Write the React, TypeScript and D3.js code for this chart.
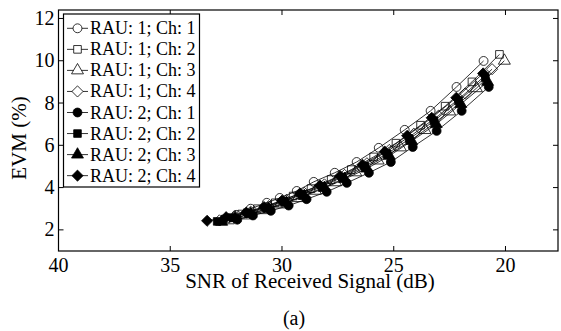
import React, { useRef, useEffect } from 'react';
import * as d3 from 'd3';

// SNR (dB) and EVM (%), one pair of arrays per curve
const snrR1C1 = [20.98, 22.19, 23.35, 24.51, 25.67, 26.66, 27.64, 28.58, 29.34, 30.1, 30.68, 31.4, 32.05];
const evmR1C1 = [9.99, 8.76, 7.63, 6.73, 5.88, 5.21, 4.7, 4.27, 3.84, 3.51, 3.28, 3.0, 2.71];
const snrR1C2 = [20.27, 21.5, 22.7, 23.8, 24.9, 25.9, 26.9, 27.8, 28.7, 29.5, 30.3, 31.1, 31.8, 32.5];
const evmR1C2 = [10.3, 9.0, 7.85, 6.95, 6.1, 5.45, 4.85, 4.38, 3.95, 3.6, 3.28, 3.0, 2.75, 2.52];
const snrR1C3 = [20.05, 21.3, 22.5, 23.6, 24.7, 25.7, 26.7, 27.6, 28.5, 29.3, 30.1, 30.9, 31.7, 32.4];
const evmR1C3 = [10.0, 8.7, 7.6, 6.72, 5.9, 5.28, 4.72, 4.25, 3.85, 3.5, 3.2, 2.93, 2.68, 2.45];
const snrR1C4 = [20.6, 21.8, 23.0, 24.1, 25.2, 26.2, 27.2, 28.1, 29.0, 29.8, 30.6, 31.4, 32.1, 32.8];
const evmR1C4 = [9.6, 8.45, 7.4, 6.55, 5.78, 5.15, 4.6, 4.15, 3.75, 3.42, 3.12, 2.86, 2.64, 2.45];
const snrR2C1 = [20.75, 21.96, 23.08, 24.15, 25.13, 26.11, 27.1, 28.0, 28.9, 29.7, 30.5, 31.3, 32.0];
const evmR2C1 = [8.76, 7.63, 6.68, 5.92, 5.21, 4.7, 4.22, 3.8, 3.45, 3.15, 2.9, 2.68, 2.48];
const snrR2C2 = [20.9, 22.1, 23.2, 24.3, 25.3, 26.3, 27.3, 28.2, 29.1, 29.9, 30.7, 31.5, 32.2, 32.9];
const evmR2C2 = [9.2, 8.1, 7.15, 6.3, 5.6, 5.0, 4.5, 4.05, 3.68, 3.35, 3.05, 2.8, 2.58, 2.4];
const snrR2C3 = [20.8, 22.0, 23.1, 24.2, 25.2, 26.2, 27.2, 28.1, 29.0, 29.8, 30.6, 31.4, 32.1, 32.7];
const evmR2C3 = [9.0, 7.95, 7.0, 6.2, 5.5, 4.9, 4.4, 3.98, 3.6, 3.28, 3.0, 2.75, 2.55, 2.38];
const snrR2C4 = [21.0, 22.2, 23.3, 24.4, 25.4, 26.4, 27.4, 28.3, 29.2, 30.0, 30.8, 31.6, 32.5, 33.35];
const evmR2C4 = [9.4, 8.25, 7.3, 6.45, 5.7, 5.08, 4.55, 4.1, 3.72, 3.38, 3.08, 2.82, 2.6, 2.43];

const seriesNames = [
    'RAU: 1; Ch: 1', 'RAU: 1; Ch: 2', 'RAU: 1; Ch: 3', 'RAU: 1; Ch: 4',
    'RAU: 2; Ch: 1', 'RAU: 2; Ch: 2', 'RAU: 2; Ch: 3', 'RAU: 2; Ch: 4'
];
const seriesSnr = [snrR1C1, snrR1C2, snrR1C3, snrR1C4, snrR2C1, snrR2C2, snrR2C3, snrR2C4];
const seriesEvm = [evmR1C1, evmR1C2, evmR1C3, evmR1C4, evmR2C1, evmR2C2, evmR2C3, evmR2C4];

const xTicks = [40, 35, 30, 25, 20];
const yTicks = [2, 4, 6, 8, 10, 12];

// matlab style diamond (square turned 45 degrees)
const symbolSquareDiamond = {
    draw(ctx, size) {
        const r = Math.sqrt(size / 2);
        ctx.moveTo(0, -r);
        ctx.lineTo(r, 0);
        ctx.lineTo(0, r);
        ctx.lineTo(-r, 0);
        ctx.closePath();
    }
};
const shapes = [d3.symbolCircle, d3.symbolSquare, d3.symbolTriangle, symbolSquareDiamond];
const sizes = [62, 58, 62, 62];

export default function App() {
    const ref = useRef<SVGSVGElement>(null);

    useEffect(() => {
        document.body.style.margin = '0';
        const font = '"Liberation Serif", "Times New Roman", serif';
        const left = 58.5, right = 558, top = 10, bottom = 251;

        const svg = d3.select(ref.current);
        svg.selectAll('*').remove();
        svg.attr('width', 561).attr('height', 331).style('background', '#fff');

        const x = d3.scaleLinear().domain([40, 17.65]).range([left, right]);
        const y = d3.scaleLinear().domain([1, 12.4]).range([bottom, top]);

        // curves
        const line = d3.line<[number, number]>()
            .x(d => x(d[0]))
            .y(d => y(d[1]));

        seriesNames.forEach((name, i) => {
            const pts: [number, number][] = seriesSnr[i].map((s, j) => [s, seriesEvm[i][j]]);
            const filled = i >= 4;
            const g = svg.append('g');
            g.append('path')
                .attr('d', line(pts))
                .attr('fill', 'none')
                .attr('stroke', '#000')
                .attr('stroke-width', 0.8);
            g.selectAll('path.m')
                .data(pts)
                .enter().append('path')
                .attr('class', 'm')
                .attr('transform', d => 'translate(' + x(d[0]) + ',' + y(d[1]) + ')')
                .attr('d', d3.symbol().type(shapes[i % 4] as any).size(sizes[i % 4])())
                .attr('fill', filled ? '#000' : 'none')
                .attr('stroke', '#000')
                .attr('stroke-width', 0.8);
        });

        // frame and ticks (inward, all four sides)
        svg.append('rect')
            .attr('x', left).attr('y', top)
            .attr('width', right - left).attr('height', bottom - top)
            .attr('fill', 'none').attr('stroke', '#000').attr('stroke-width', 1.2);

        const tk = 5;
        xTicks.forEach(t => {
            svg.append('line').attr('x1', x(t)).attr('x2', x(t)).attr('y1', bottom).attr('y2', bottom - tk).attr('stroke', '#000');
            svg.append('line').attr('x1', x(t)).attr('x2', x(t)).attr('y1', top).attr('y2', top + tk).attr('stroke', '#000');
            svg.append('text')
                .attr('x', x(t)).attr('y', 272)
                .attr('text-anchor', 'middle')
                .style('font-family', font).style('font-size', '20px')
                .text(t);
        });
        yTicks.forEach(t => {
            svg.append('line').attr('x1', left).attr('x2', left + tk).attr('y1', y(t)).attr('y2', y(t)).attr('stroke', '#000');
            svg.append('line').attr('x1', right).attr('x2', right - tk).attr('y1', y(t)).attr('y2', y(t)).attr('stroke', '#000');
            svg.append('text')
                .attr('x', left - 4).attr('y', y(t) + 6.5)
                .attr('text-anchor', 'end')
                .style('font-family', font).style('font-size', '20px')
                .text(t);
        });

        // axis labels
        svg.append('text')
            .attr('x', 310).attr('y', 288)
            .attr('text-anchor', 'middle')
            .style('font-family', font).style('font-size', '21px')
            .text('SNR of Received Signal (dB)');
        svg.append('text')
            .attr('transform', 'translate(26,138) rotate(-90)')
            .attr('text-anchor', 'middle')
            .style('font-family', font).style('font-size', '21px')
            .text('EVM (%)');
        svg.append('text')
            .attr('x', 294).attr('y', 325)
            .attr('text-anchor', 'middle')
            .style('font-family', font).style('font-size', '20px')
            .text('(a)');

        // legend
        const lg = svg.append('g');
        lg.append('rect')
            .attr('x', 63.5).attr('y', 14)
            .attr('width', 136).attr('height', 173)
            .attr('fill', '#fff').attr('stroke', '#000').attr('stroke-width', 1.2);
        seriesNames.forEach((name, i) => {
            const cy = 28.3 + i * 21.05;
            lg.append('line')
                .attr('x1', 67).attr('x2', 88).attr('y1', cy).attr('y2', cy)
                .attr('stroke', '#000').attr('stroke-width', 0.8);
            lg.append('path')
                .attr('transform', 'translate(77.5,' + cy + ')')
                .attr('d', d3.symbol().type(shapes[i % 4] as any).size(sizes[i % 4])())
                .attr('fill', i >= 4 ? '#000' : '#fff')
                .attr('stroke', '#000')
                .attr('stroke-width', 0.8);
            lg.append('text')
                .attr('x', 90).attr('y', cy + 6)
                .style('font-family', font).style('font-size', '18px')
                .text(name);
        });
    }, []);

    return <svg ref={ref} />;
}
